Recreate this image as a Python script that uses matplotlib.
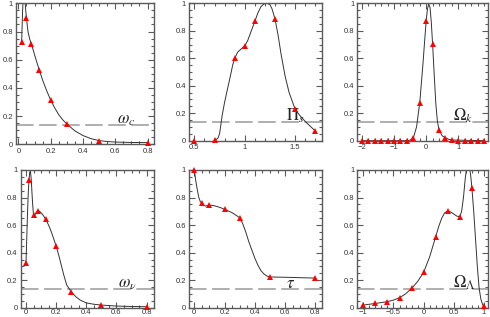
import matplotlib
matplotlib.use("Agg")
import matplotlib.pyplot as plt
from matplotlib.ticker import MultipleLocator, FuncFormatter

# --- sampled points (red triangles) ---------------------------------------

wc_x = [0.02, 0.05, 0.08, 0.13, 0.2, 0.3, 0.5, 0.8]
wc_y = [0.729, 0.896, 0.713, 0.525, 0.313, 0.144, 0.026, 0.012]

pis_x = [0.5, 0.7, 0.9, 1.0, 1.1, 1.3, 1.5, 1.7]
pis_y = [0.0, 0.007, 0.60, 0.69, 0.869, 0.886, 0.228, 0.07]

ok_x = [-2.0, -1.8, -1.6, -1.4, -1.2, -1.0, -0.8, -0.6, -0.4, -0.2,
        0.0, 0.2, 0.4, 0.6, 0.8, 1.0, 1.2, 1.4, 1.6, 1.8]
ok_y = [0.0, 0.0, 0.0, 0.0, 0.0, 0.0, 0.0, 0.0, 0.019, 0.277,
        0.874, 0.701, 0.078, 0.022, 0.005, 0.0, 0.0, 0.0, 0.0, 0.0]

wv_x = [0.0, 0.02, 0.05, 0.08, 0.13, 0.2, 0.3, 0.5, 0.8]
wv_y = [0.322, 0.927, 0.673, 0.705, 0.642, 0.448, 0.116, 0.019, 0.007]

tau_x = [0.0, 0.05, 0.1, 0.2, 0.3, 0.5, 0.8]
tau_y = [1.0, 0.758, 0.746, 0.714, 0.654, 0.223, 0.215]

ol_x = [-1.0, -0.8, -0.6, -0.4, -0.2, 0.0, 0.2, 0.4, 0.6, 0.8, 1.0]
ol_y = [0.019, 0.031, 0.044, 0.073, 0.14, 0.257, 0.516, 0.702, 0.661, 0.872, 0.012]

# --- likelihood curves ------------------------------------------------------

wc_cx = [0.02, 0.023, 0.026, 0.029, 0.032, 0.035, 0.038, 0.042, 0.046, 0.05,
         0.055, 0.06, 0.07, 0.08, 0.09, 0.1, 0.115, 0.13, 0.15, 0.175, 0.2,
         0.225, 0.25, 0.275, 0.3, 0.35, 0.4, 0.45, 0.5, 0.55, 0.6, 0.7, 0.8]
wc_cy = [0.729, 0.84, 0.95, 1.02, 1.06, 1.07, 1.05, 1.0, 0.94, 0.896,
         0.84, 0.795, 0.745, 0.713, 0.675, 0.635, 0.578, 0.525, 0.455, 0.38, 0.313,
         0.258, 0.21, 0.173, 0.144, 0.095, 0.062, 0.04, 0.026, 0.02, 0.016, 0.013, 0.012]

pis_cx = [0.7, 0.72, 0.735, 0.75, 0.76, 0.775, 0.8, 0.83, 0.86, 0.88, 0.9,
          0.93, 0.96, 1.0, 1.03, 1.06, 1.1, 1.13, 1.16, 1.19, 1.22, 1.25,
          1.27, 1.3, 1.33, 1.36, 1.4, 1.44, 1.5, 1.55, 1.6, 1.65, 1.7]
pis_cy = [0.007, 0.01, 0.02, 0.05, 0.1, 0.18, 0.28, 0.38, 0.48, 0.55, 0.60,
          0.645, 0.665, 0.69, 0.73, 0.79, 0.869, 0.93, 0.975, 0.995, 1.0, 0.99,
          0.96, 0.886, 0.77, 0.63, 0.47, 0.35, 0.228, 0.18, 0.14, 0.105, 0.07]

ok_cx = [-2.0, -0.6, -0.5, -0.4, -0.3, -0.2, -0.1, -0.05, 0.0, 0.04, 0.08,
         0.12, 0.16, 0.2, 0.25, 0.3, 0.35, 0.4, 0.5, 0.6, 0.7, 0.8, 1.8]
ok_cy = [0.0, 0.0, 0.004, 0.019, 0.1, 0.277, 0.56, 0.72, 0.874, 0.96, 0.995,
         0.97, 0.86, 0.701, 0.48, 0.27, 0.14, 0.078, 0.035, 0.022, 0.01, 0.005, 0.0]

wv_cx = [0.0, 0.005, 0.01, 0.015, 0.02, 0.025, 0.03, 0.035, 0.04, 0.045, 0.05,
         0.06, 0.07, 0.08, 0.09, 0.1, 0.115, 0.13, 0.15, 0.17, 0.2, 0.22, 0.25,
         0.27, 0.3, 0.33, 0.36, 0.4, 0.45, 0.5, 0.6, 0.7, 0.8]
wv_cy = [0.322, 0.5, 0.68, 0.83, 0.927, 0.985, 0.99, 0.93, 0.83, 0.74, 0.673,
         0.675, 0.695, 0.705, 0.70, 0.69, 0.67, 0.642, 0.6, 0.545, 0.448, 0.37, 0.24,
         0.165, 0.116, 0.08, 0.055, 0.035, 0.025, 0.019, 0.012, 0.009, 0.007]

tau_cx = [0.0, 0.01, 0.02, 0.03, 0.04, 0.05, 0.06, 0.075, 0.1, 0.125, 0.15,
          0.175, 0.2, 0.25, 0.3, 0.32, 0.34, 0.36, 0.38, 0.4, 0.42, 0.44, 0.46,
          0.48, 0.5, 0.6, 0.7, 0.8]
tau_cy = [1.0, 0.92, 0.855, 0.8, 0.77, 0.758, 0.745, 0.738, 0.746, 0.742, 0.735,
          0.726, 0.714, 0.69, 0.654, 0.61, 0.55, 0.48, 0.42, 0.36, 0.31, 0.27, 0.245,
          0.23, 0.223, 0.221, 0.218, 0.215]

ol_cx = [-1.0, -0.8, -0.6, -0.5, -0.4, -0.3, -0.2, -0.1, 0.0, 0.1, 0.2, 0.25,
         0.3, 0.35, 0.4, 0.45, 0.5, 0.55, 0.6, 0.63, 0.66, 0.69, 0.72, 0.75, 0.78,
         0.8, 0.83, 0.86, 0.89, 0.92, 0.95, 0.98, 1.0]
ol_cy = [0.019, 0.031, 0.044, 0.055, 0.073, 0.1, 0.14, 0.19, 0.257, 0.37, 0.516, 0.59,
         0.65, 0.69, 0.702, 0.695, 0.68, 0.665, 0.661, 0.7, 0.8, 0.94, 1.04, 1.05, 0.96,
         0.872, 0.7, 0.5, 0.3, 0.14, 0.06, 0.02, 0.012]

LABELS = [r"$\omega_c$", r"$\Pi_s$", r"$\Omega_k$",
          r"$\omega_\nu$", r"$\tau$", r"$\Omega_\Lambda$"]

W, H = 490, 317
FRAME = "#5a5a5a"

# panel boxes in pixels: left, right, top, bottom
BOXES = [
    (16.0, 154.0, 3.3, 144.3),
    (189.0, 321.7, 3.3, 140.7),
    (357.3, 488.0, 3.3, 140.7),
    (20.7, 154.0, 170.0, 307.7),
    (189.0, 321.7, 170.0, 307.7),
    (357.3, 488.0, 170.0, 307.7),
]
XLIMS = [(-0.015, 0.84), (0.447, 1.763), (-2.145, 1.925),
         (-0.035, 0.849), (-0.035, 0.842), (-1.1, 1.067)]
XMAJ = [0.2, 0.5, 1.0, 0.2, 0.2, 0.5]
XMIN = [0.05, 0.1, 0.2, 0.05, 0.05, 0.1]


def fmt(v, _):
    return f"{v:g}".replace("-", "\u2212")


plt.rcParams["mathtext.fontset"] = "stix"
plt.rcParams["font.family"] = ["Liberation Sans", "DejaVu Sans"]
fig = plt.figure(figsize=(W / 100, H / 100), dpi=100)

points = [(wc_x, wc_y), (pis_x, pis_y), (ok_x, ok_y),
          (wv_x, wv_y), (tau_x, tau_y), (ol_x, ol_y)]
curves = [(wc_cx, wc_cy), (pis_cx, pis_cy), (ok_cx, ok_cy),
          (wv_cx, wv_cy), (tau_cx, tau_cy), (ol_cx, ol_cy)]

for i in range(6):
    l, r, t, b = BOXES[i]
    ax = fig.add_axes([l / W, 1 - b / H, (r - l) / W, (b - t) / H])
    ax.set_xlim(*XLIMS[i])
    ax.set_ylim(0, 1)

    cx, cy = curves[i]
    ax.plot(cx, cy, color="#333333", lw=0.7, zorder=2)
    px, py = points[i]
    ax.plot(px, py, "^", color="#ff0000", ms=3.8, mew=0, zorder=4, clip_on=False)
    ax.axhline(0.135, color="#9a9a9a", lw=1.1, dashes=(11.5, 3.6), zorder=1)
    ax.text(0.73, 0.145, LABELS[i], transform=ax.transAxes,
            fontsize=12, color="#222222", ha="left", va="baseline")

    ax.xaxis.set_major_locator(MultipleLocator(XMAJ[i]))
    ax.xaxis.set_minor_locator(MultipleLocator(XMIN[i]))
    ax.yaxis.set_major_locator(MultipleLocator(0.2))
    ax.yaxis.set_minor_locator(MultipleLocator(0.05))
    ax.xaxis.set_major_formatter(FuncFormatter(fmt))
    ax.yaxis.set_major_formatter(FuncFormatter(fmt))
    ax.tick_params(which="both", direction="in", top=True, right=True,
                   colors=FRAME, labelcolor="#333333", labelsize=5.5, width=0.8)
    ax.tick_params(which="major", length=4)
    ax.tick_params(which="minor", length=2)
    ax.tick_params(axis="y", pad=2.2)
    ax.tick_params(axis="x", pad=2.5 if i < 3 else 0.8)
    for sp in ax.spines.values():
        sp.set_edgecolor(FRAME)
        sp.set_linewidth(1.0)

plt.savefig("out.png", dpi=100)
